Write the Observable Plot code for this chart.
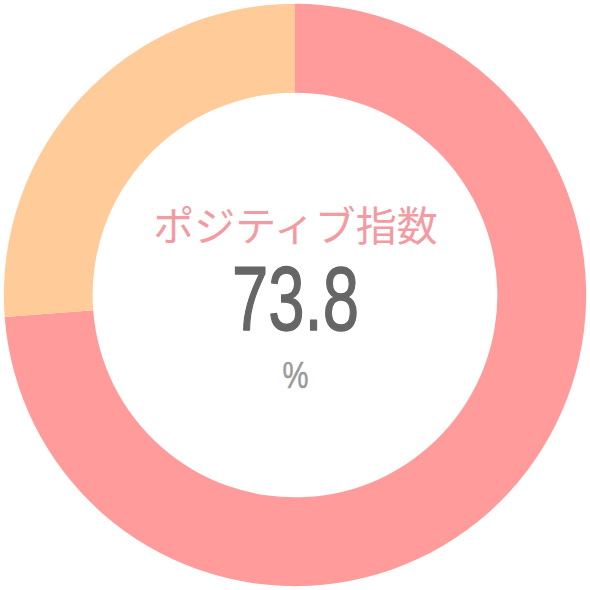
<!DOCTYPE html>
<html>
<head>
<meta charset="utf-8">
<script src="https://cdn.jsdelivr.net/npm/d3@7"></script>
<script src="https://cdn.jsdelivr.net/npm/@observablehq/plot@0.6"></script>
<style>
  html, body { margin: 0; padding: 0; background: #fff; }
</style>
</head>
<body>
<div id="chart"></div>
<script>
// ---- data ----
const categories = ["ポジティブ", "その他"];
const values = [73.8, 26.2];
const colors = ["#ff9b9b", "#ffcb98"];
const centerTitle = "ポジティブ指数";
const centerValue = "73.8";
const centerUnit = "%";

const slices = categories.map((c, i) => ({category: c, value: values[i]}));

// donut mark rendered with Plot's x/y/color scales
function donut(data, {inner, outer}) {
  return (index, scales) => {
    const cx = scales.x(0), cy = scales.y(0);
    const r0 = Math.abs(scales.x(inner) - cx);
    const r1 = Math.abs(scales.x(outer) - cx);
    const arcs = d3.pie().sort(null).value(d => d.value)(data);
    const arc = d3.arc().innerRadius(r0).outerRadius(r1);
    const g = d3.create("svg:g").attr("transform", `translate(${cx},${cy})`);
    g.selectAll("path").data(arcs).join("path")
      .attr("d", arc)
      .attr("fill", d => scales.color(d.data.category));
    return g.node();
  };
}

const center = [{x: 0, y: 0}];

const plot = Plot.plot({
  width: 590,
  height: 590,
  margin: 0,
  x: {domain: [-1, 1], axis: null},
  y: {domain: [-1, 1], axis: null},
  color: {domain: categories, range: colors},
  marks: [
    Plot.dot(slices, {x: () => 0, y: () => 0, fill: "category", r: 0}),
    donut(slices, {inner: 0.686, outer: 0.987}),
    Plot.text(center, {x: "x", y: "y", text: () => centerTitle, dy: -68,
      fontSize: 41, fill: "#f29ba2", fontFamily: "Noto Sans CJK JP", lineAnchor: "middle"}),
    Plot.text(center, {x: "x", y: "y", text: () => centerValue, dy: 5,
      fontSize: 91, fill: "#666666", stroke: "#666666", strokeWidth: 1.4,
      fontFamily: "Liberation Sans Narrow, Liberation Sans, sans-serif", lineAnchor: "middle"}),
    Plot.text(center, {x: "x", y: "y", text: () => centerUnit, dy: 81,
      fontSize: 36, fill: "#9a9a9a", stroke: "#9a9a9a", strokeWidth: 0.5,
      fontFamily: "Liberation Sans Narrow, Liberation Sans, sans-serif", lineAnchor: "middle"})
  ]
});

d3.select(plot).selectAll("text")
  .filter(function() { return this.textContent === centerValue; })
  .attr("textLength", 127)
  .attr("lengthAdjust", "spacingAndGlyphs");
d3.select(plot).selectAll("text")
  .filter(function() { return this.textContent === centerUnit; })
  .attr("textLength", 26)
  .attr("lengthAdjust", "spacingAndGlyphs");

document.getElementById("chart").appendChild(plot);
</script>
</body>
</html>
